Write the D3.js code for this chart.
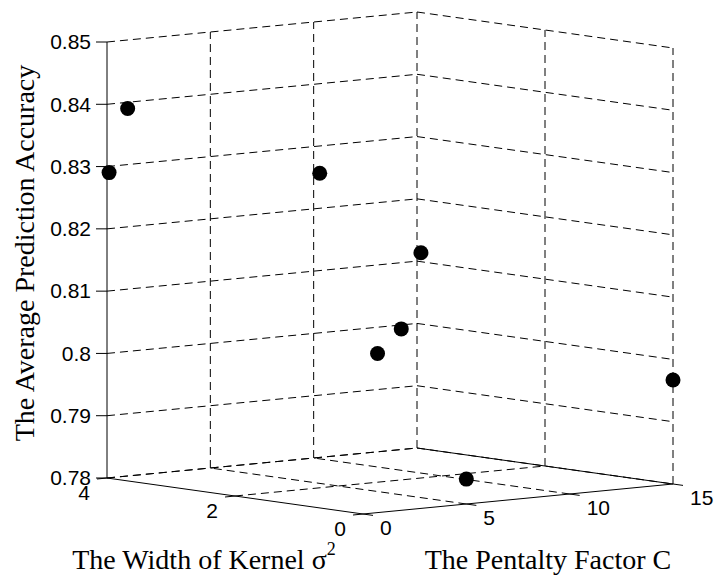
<!DOCTYPE html>
<html>
<head>
<meta charset="utf-8">
<script src="https://cdn.jsdelivr.net/npm/d3@7"></script>
<style>
  body { margin: 0; background: #fff; }
  svg { display: block; }
  .tick { font-family: "Liberation Sans", Arial, sans-serif; font-size: 21px; fill: #000; }
  .title { font-family: "Liberation Serif", "Times New Roman", serif; font-size: 28px; fill: #000; }
</style>
</head>
<body>
<svg id="chart" width="717" height="580"></svg>
<script>

// chart values
var sigmaTicks = [0, 2, 4];
var cTicks = [0, 5, 10, 15];
var zTicks = [0.78, 0.79, 0.80, 0.81, 0.82, 0.83, 0.84, 0.85];
var zTickLabels = ["0.78", "0.79", "0.8", "0.81", "0.82", "0.83", "0.84", "0.85"];

// data points: sigma^2, C, average accuracy
var sigmaVals = [4, 4, 2, 1, 0.5, 1, 0, 0];
var cVals = [1, 0.1, 4.1, 5.9, 3.4, 3.8, 15, 5];
var accVals = [0.839, 0.829, 0.8305, 0.8186, 0.8079, 0.8031, 0.7967, 0.784];

// projection of the box (front bottom corner + one vector per axis)
var origin = [363, 514];
var vecS = [-256, -36];
var vecC = [310, -30];
var vecZ = [0, -436];

var sScale = d3.scaleLinear().domain([0, 4]).range([0, 1]);
var cScale = d3.scaleLinear().domain([0, 15]).range([0, 1]);
var zScale = d3.scaleLinear().domain([0.78, 0.85]).range([0, 1]);

function project(s, c, z) {
    let u = sScale(s), v = cScale(c), w = zScale(z);
    return [origin[0] + u * vecS[0] + v * vecC[0] + w * vecZ[0],
            origin[1] + u * vecS[1] + v * vecC[1] + w * vecZ[1]];
}

var svg = d3.select("#chart");
var grid = svg.append("g");
var dash = "8,5";

function seg(g, a, b, dashed) {
    var l = g.append("line")
        .attr("x1", a[0]).attr("y1", a[1])
        .attr("x2", b[0]).attr("y2", b[1])
        .attr("stroke", "#000")
        .attr("stroke-width", 1);
    if (dashed) l.attr("stroke-dasharray", dash);
    return l;
}

// left back wall (sigma = 4)
zTicks.forEach((z) => {
    seg(grid, project(4, 0, z), project(4, 15, z), true);
});
cTicks.slice(1).forEach((c) => {
    seg(grid, project(4, c, 0.78), project(4, c, 0.85), true);
});

// right back wall (C = 15)
zTicks.forEach((z) => {
    seg(grid, project(4, 15, z), project(0, 15, z), true);
});
sigmaTicks.slice(0, 2).forEach((s) => {
    seg(grid, project(s, 15, 0.78), project(s, 15, 0.85), true);
});

// floor
sigmaTicks.slice(1).forEach((s) => {
    seg(grid, project(s, 0, 0.78), project(s, 15, 0.78), true);
});
cTicks.slice(1).forEach((c) => {
    // two overlapping dashed lines at C = 15 look solid in the original
    seg(grid, project(0, c, 0.78), project(4, c, 0.78), c != 15);
});

// axes
var axes = svg.append("g");
seg(axes, project(4, 0, 0.78), project(4, 0, 0.85), false);
seg(axes, project(0, 0, 0.78), project(4, 0, 0.78), false);
seg(axes, project(0, 0, 0.78), project(0, 15, 0.78), false);

// z ticks + labels
zTicks.forEach((z, i) => {
    let p = project(4, 0, z);
    seg(axes, [p[0] - 11, p[1]], p, false);
    axes.append("text")
        .attr("class", "tick")
        .attr("x", p[0] - 16)
        .attr("y", p[1])
        .attr("dy", "0.35em")
        .attr("text-anchor", "end")
        .text(zTickLabels[i]);
});

// sigma ticks (pointing away from C axis)
sigmaTicks.forEach((s) => {
    let p = project(s, 0, 0.78);
    seg(axes, p, [p[0] - 10, p[1] + 1], false);
    axes.append("text")
        .attr("class", "tick")
        .attr("x", p[0] - 23)
        .attr("y", p[1] + 15)
        .attr("dy", "0.35em")
        .attr("text-anchor", "middle")
        .text(s);
});

// C ticks
cTicks.forEach((c) => {
    let p = project(0, c, 0.78);
    seg(axes, p, [p[0] + 10, p[1] + 1.4], false);
    axes.append("text")
        .attr("class", "tick")
        .attr("x", p[0] + 17)
        .attr("y", p[1] + 14)
        .attr("dy", "0.35em")
        .attr("text-anchor", "start")
        .text(c);
});

// points
var pts = sigmaVals.map((s, i) => project(s, cVals[i], accVals[i]));
svg.append("g").selectAll("circle")
    .data(pts)
    .join("circle")
    .attr("cx", (d) => d[0])
    .attr("cy", (d) => d[1])
    .attr("r", 7.5)
    .attr("fill", "#000");

// axis titles
var t1 = svg.append("text")
    .attr("class", "title")
    .attr("x", 204)
    .attr("y", 569)
    .attr("text-anchor", "middle");
t1.append("tspan").text("The Width of Kernel \u03c3");
t1.append("tspan").attr("dy", -14).attr("font-size", "18px").text("2");

svg.append("text")
    .attr("class", "title")
    .attr("x", 548)
    .attr("y", 569)
    .attr("text-anchor", "middle")
    .text("The Pentalty Factor C");

svg.append("text")
    .attr("class", "title")
    .attr("transform", "translate(34,253) rotate(-90)")
    .attr("text-anchor", "middle")
    .text("The Average Prediction Accuracy");

</script>
</body>
</html>
